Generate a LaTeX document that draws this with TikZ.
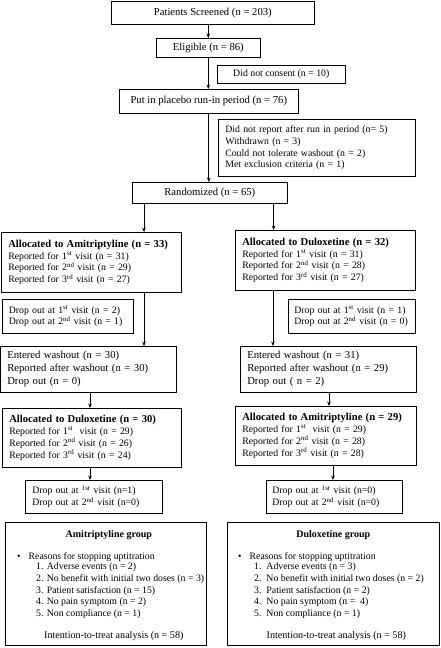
\documentclass[tikz,border=0pt]{standalone}
\usepackage{fontspec}
\setmainfont{Liberation Serif}
\usetikzlibrary{arrows.meta,calc}
\newcommand\hdfont{\fontsize{10.6}{11.8}\selectfont\bfseries}
\newcommand\nb[1]{\mbox{#1}}
\tikzset{
  bx/.style={draw, line width=0.6pt, anchor=north west, inner xsep=7pt, inner ysep=0pt, align=left, font=\fontsize{9.8}{11.8}\selectfont},
  cbx/.style={draw, line width=0.6pt, anchor=north west, inner sep=0pt, align=center, font=\fontsize{10.65}{13}\selectfont},
  txt/.style={inner sep=0pt, font=\fontsize{9.8}{12}\selectfont},
  arr/.style={-{Stealth[length=4.5pt,width=3.6pt]}, line width=0.8pt}
}
\begin{document}
\begin{tikzpicture}[x=1pt,y=-1pt]
\useasboundingbox (0,0) rectangle (441,648);
% top chain
\node[cbx, minimum width=203pt, minimum height=23pt] (scr) at (111,1) {Patients Screened (n = 203)};
\node[cbx, minimum width=104pt, minimum height=19pt] (elig) at (156,38) {Eligible (n = 86)};
\node[cbx, minimum width=128pt, minimum height=18pt, font=\fontsize{9.8}{12}\selectfont] (nocons) at (217,65) {Did not consent (n = 10)};
\node[cbx, minimum width=179pt, minimum height=24pt] (plac) at (119,89) {Put in placebo run-in period (n = 76)};
\node[bx, text width=183pt, minimum height=57pt] (norep) at (218,119) {Did not report after run in period (n= 5)\\Withdrawn (n = 3)\\Could not tolerate washout (n = 2)\\Met exclusion criteria (n = 1)};
\node[cbx, minimum width=155pt, minimum height=21pt] (rand) at (132,182) {Randomized (n = 65)};
% first allocation
\node[bx, text width=166pt, minimum height=60pt] (allA) at (1,232) {\nb{\hdfont Allocated to Amitriptyline (n = 33)}\\Reported for 1\textsuperscript{st} visit (n = 31)\\Reported for 2\textsuperscript{nd} visit (n = 29)\\Reported for 3\textsuperscript{rd} visit (n = 27)};
\node[bx, text width=166pt, minimum height=60pt] (allD) at (235,230) {\nb{\hdfont Allocated to Duloxetine (n = 32)}\\Reported for 1\textsuperscript{st} visit (n = 31)\\Reported for 2\textsuperscript{nd} visit (n = 28)\\Reported for 3\textsuperscript{rd} visit (n = 27)};
\node[bx, text width=118pt, inner xsep=6.5pt, minimum height=34pt] (dropL) at (2,299) {\nb{Drop out at 1\textsuperscript{st} visit (n = 2)}\\\nb{Drop out at 2\textsuperscript{nd} visit (n = 1)}};
\node[bx, minimum height=34pt, inner xsep=6pt, text width=115pt] (dropR) at (288,299) {\nb{Drop out at 1\textsuperscript{st} visit (n = 1)}\\\nb{Drop out at 2\textsuperscript{nd} visit (n = 0)}};
% washout
\node[bx, text width=162pt, minimum height=46pt, font=\fontsize{10.65}{13}\selectfont] (washL) at (0,346) {Entered washout (n = 30)\\Reported after washout (n = 30)\\Drop out (n = 0)};
\node[bx, text width=162pt, minimum height=46pt, font=\fontsize{10.65}{13}\selectfont] (washR) at (240,346) {Entered washout (n = 31)\\Reported after washout (n = 29)\\Drop out ( n = 2)};
% second allocation
\node[bx, text width=165pt, minimum height=59pt] (allD2) at (2,408) {\nb{\hdfont Allocated to Duloxetine (n = 30)}\\Reported for 1\textsuperscript{st}\ \ visit (n = 29)\\Reported for 2\textsuperscript{nd} visit (n = 26)\\Reported for 3\textsuperscript{rd} visit (n = 24)};
\node[bx, text width=167pt, minimum height=59pt] (allA2) at (235,406) {\nb{\hdfont Allocated to Amitriptyline (n = 29)}\\Reported for 1\textsuperscript{st}\ \ visit (n = 29)\\Reported for 2\textsuperscript{nd} visit (n = 28)\\Reported for 3\textsuperscript{rd} visit (n = 28)};
\node[bx, text width=123pt, minimum height=33pt] (dropL2) at (25,480) {Drop out at \textsuperscript{1st} visit (n=1)\\Drop out at 2\textsuperscript{nd} visit (n=0)};
\node[bx, text width=124pt, minimum height=33pt, inner xsep=6pt] (dropR2) at (266,480) {Drop out at \textsuperscript{1st} visit (n=0)\\Drop out at 2\textsuperscript{nd} visit (n=0)};
% group boxes
\node[cbx, minimum width=201pt, minimum height=123pt] (grpA) at (5,522) {};
\node[cbx, minimum width=212pt, minimum height=123pt] (grpD) at (227,522) {};
\node[txt, anchor=base, font=\fontsize{10}{12}\selectfont\bfseries] (tA) at ($(grpA.north)+(3,15)$) {Amitriptyline group};
\node[txt, anchor=base west] (bA) at ($(grpA.north west)+(12,37)$) {\textbullet\hspace{8pt}Reasons for stopping uptitration};
\node[txt, anchor=north west, align=left, font=\fontsize{9.8}{11.8}\selectfont] (iA) at ($(bA.base west)+(19,3.5)$) {1. Adverse events (n = 2)\\2. No benefit with initial two doses (n = 3)\\3. Patient satisfaction (n = 15)\\4. No pain symptom (n = 2)\\5. Non compliance (n = 1)};
\node[txt, anchor=base, font=\fontsize{10.1}{12}\selectfont] (itA) at ($(grpA.north)+(8,116)$) {Intention-to-treat analysis (n = 58)};
\node[txt, anchor=base, font=\fontsize{10}{12}\selectfont\bfseries] (tD) at ($(grpD.north)+(0,15)$) {Duloxetine group};
\node[txt, anchor=base west] (bD) at ($(grpD.north west)+(11,37)$) {\textbullet\hspace{8pt}Reasons for stopping uptitration};
\node[txt, anchor=north west, align=left, font=\fontsize{9.8}{11.8}\selectfont] (iD) at ($(bD.base west)+(16,3.5)$) {1.\ \ Adverse events (n = 3)\\2.\ \ No benefit with initial two doses (n = 2)\\3.\ \ Patient satisfaction (n = 2)\\4.\ \ No pain symptom (n =\ \ 4)\\5.\ \ Non compliance (n = 1)};
\node[txt, anchor=base, font=\fontsize{10.1}{12}\selectfont] (itD) at ($(grpD.north)+(3,116)$) {Intention-to-treat analysis (n = 58)};
% connector columns
\coordinate (cA) at ($(rand.south west)+(12,0)$);
\coordinate (cD) at ($(rand.south east)+(-14,0)$);
\coordinate (cA2) at ($(allA.south west)+(143,0)$);
\coordinate (cD2) at ($(allD.south west)+(38,0)$);
\coordinate (cW) at ($(washL.south west)+(90,0)$);
\coordinate (cW2) at ($(washR.south west)+(89,0)$);
\coordinate (cL) at ($(allD2.south west)+(88,0)$);
\coordinate (cR) at ($(allA2.south west)+(98,0)$);
% connectors
\draw[arr] (elig.north |- scr.south) -- (elig.north);
\draw[arr] (elig.south) -- (elig.south |- plac.north);
\draw[arr] (plac.south) -- (plac.south |- rand.north);
\draw[arr] (cA) -- (cA |- allA.north);
\draw[arr] (cD) -- (cD |- allD.north);
\draw[arr] (cA2) -- (cA2 |- washL.north);
\draw[arr] (cD2) -- (cD2 |- washR.north);
\draw[arr] (cW) -- (cW |- allD2.north);
\draw[arr] (cW2) -- (cW2 |- allA2.north);
\draw[arr] (cL) -- (cL |- dropL2.north);
\draw[arr] (cR) -- (cR |- dropR2.north);
\end{tikzpicture}
\end{document}
